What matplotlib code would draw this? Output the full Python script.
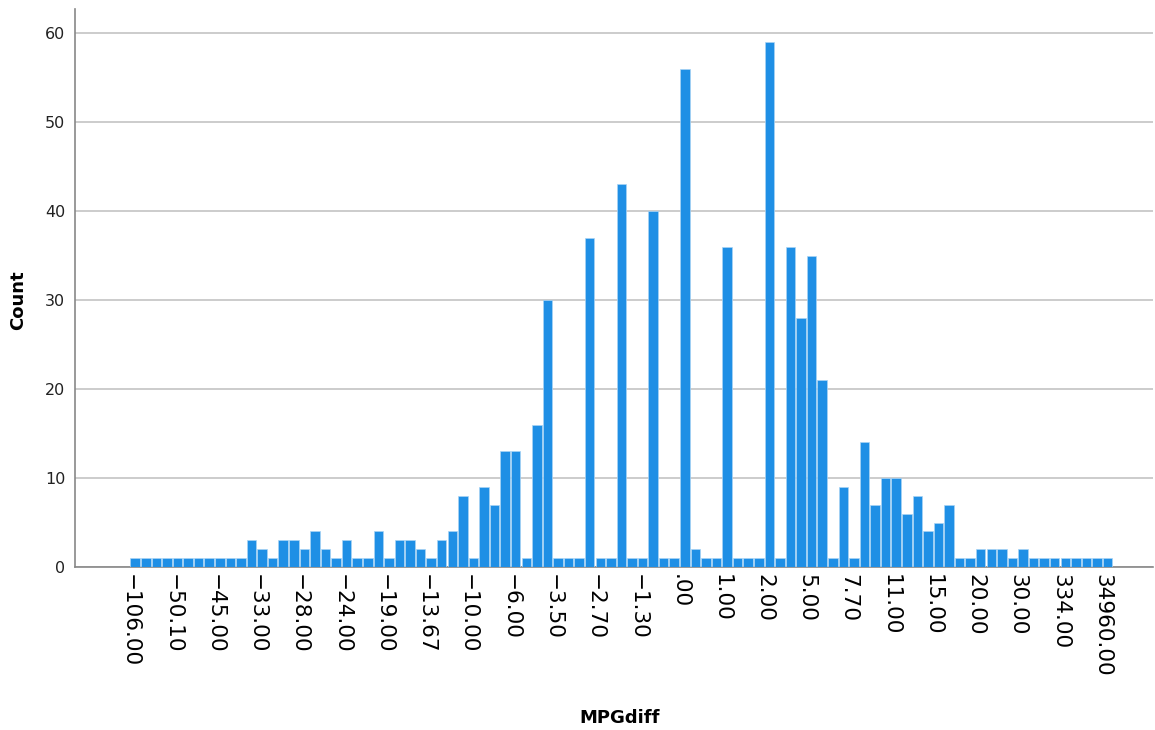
import matplotlib
matplotlib.use("Agg")
import matplotlib.pyplot as plt
import numpy as np

# Counts for each MPGdiff category (93 categories, left to right)
counts = [1, 1, 1, 1, 1, 1, 1, 1, 1, 1, 1,
          3, 2, 1, 3, 3, 2, 4, 2, 1, 3, 1, 1, 4, 1, 3, 3, 2, 1, 3, 4,
          8, 1, 9, 7, 13, 13, 1, 16, 30, 1, 1, 1, 37, 1, 1, 43, 1, 1, 40,
          1, 1, 56, 2, 1, 1, 36, 1, 1, 1, 59, 1, 36, 28, 35, 21, 1, 9, 1,
          14, 7, 10, 10, 6, 8, 4, 5, 7, 1, 1, 2, 2, 2, 1, 2,
          1, 1, 1, 1, 1, 1, 1, 1]

# Labels shown on every 4th category
tick_labels = ["\u2212106.00", "\u221250.10", "\u221245.00", "\u221233.00", "\u221228.00",
               "\u221224.00", "\u221219.00", "\u221213.67", "\u221210.00", "\u22126.00",
               "\u22123.50", "\u22122.70", "\u22121.30", ".00", "1.00", "2.00", "5.00",
               "7.70", "11.00", "15.00", "20.00", "30.00", "334.00", "34960.00"]
label_step = 4

fig = plt.figure(figsize=(11.55, 7.30), dpi=100)
ax = fig.add_axes([75/1155, 1 - 567/730, (1153-75)/1155, (567-9)/730])

x = np.arange(len(counts))
ax.bar(x, counts, width=0.9, color="#1f8fe5", edgecolor="#a9d4f5", linewidth=0.5, zorder=3)

ax.set_xlim(-5.7, 96.3)
ax.set_ylim(0, 62.7)

ax.set_yticks([0, 10, 20, 30, 40, 50, 60])
ax.set_yticklabels(["0", "10", "20", "30", "40", "50", "60"], fontsize=11.5, color="#222222")
ax.yaxis.grid(True, color="#c8c8c8", linewidth=1.3, zorder=0)
ax.tick_params(axis="y", length=0, pad=7)

tick_pos = [i * label_step - 0.5 for i in range(len(tick_labels))]
ax.set_xticks(tick_pos)
ax.set_xticklabels(tick_labels, rotation=-90, fontsize=15.5, color="black")
ax.tick_params(axis="x", length=0, pad=5)

for s in ["top", "right"]:
    ax.spines[s].set_visible(False)
ax.spines["left"].set_color("#888888")
ax.spines["bottom"].set_color("#888888")
ax.spines["left"].set_linewidth(1.2)
ax.spines["bottom"].set_linewidth(1.2)

fig.text(18/1155, 1 - 300/730, "Count", rotation=90, fontsize=13, fontweight="bold",
         ha="center", va="center")
fig.text(620/1155, 1 - 718/730, "MPGdiff", fontsize=13, fontweight="bold",
         ha="center", va="center")

fig.savefig("out.png", dpi=100)
